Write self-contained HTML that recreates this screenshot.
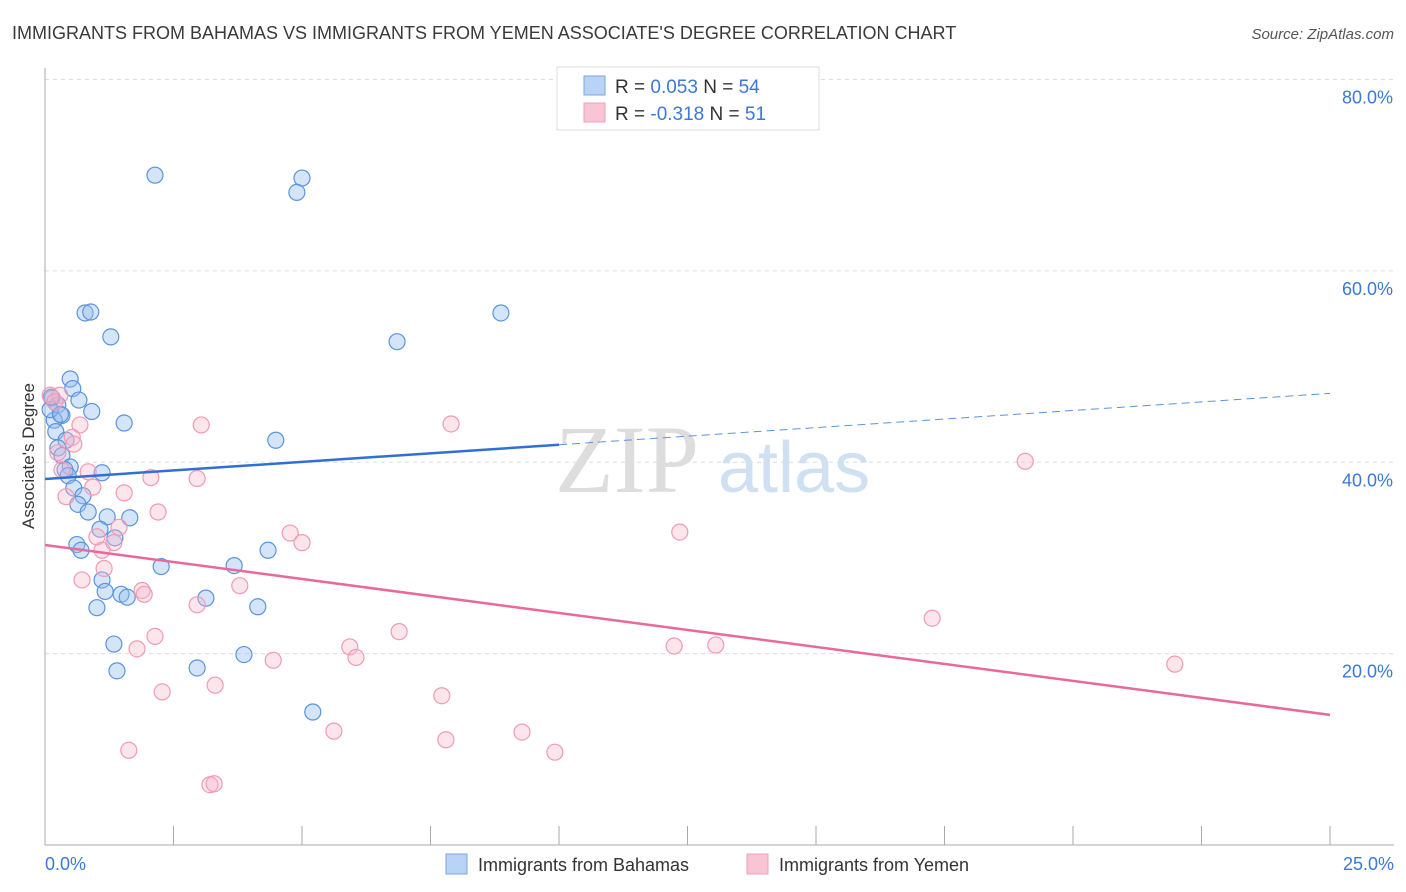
<!DOCTYPE html>
<html><head><meta charset="utf-8"><style>
body{margin:0;background:#fff;font-family:"Liberation Sans",sans-serif;}
svg{display:block}
</style></head><body>
<svg id="chart" width="1406" height="892" xmlns="http://www.w3.org/2000/svg">
<text x="12" y="39" font-size="18" fill="#3a3a3a">IMMIGRANTS FROM BAHAMAS VS IMMIGRANTS FROM YEMEN ASSOCIATE'S DEGREE CORRELATION CHART</text>
<text x="1394" y="39" font-size="15" fill="#555" text-anchor="end" font-style="italic">Source: ZipAtlas.com</text>
<g>
<text x="555" y="492" font-size="96" fill="#dddddd" font-family="Liberation Serif,serif">ZIP</text>
<text x="718" y="492" font-size="72" fill="#cfe0f3">atlas</text>
</g>
<g id="grid"></g>
<g id="axes"></g>
<g id="marks"></g>
<text transform="translate(34,456) rotate(-90)" font-size="17" fill="#333" text-anchor="middle">Associate's Degree</text>
<g>
<rect x="557" y="67" width="262" height="63" fill="#fff" stroke="#ddd"/>
<rect x="584" y="76" width="21" height="19" fill="#b8d3f5" stroke="#7aa6e0"/>
<rect x="584" y="103" width="21" height="19" fill="#f9c4d4" stroke="#eea0b8"/>
<text x="615" y="93" font-size="19" fill="#333">R = <tspan fill="#3b78d8"> 0.053</tspan>   N = <tspan fill="#3b78d8">54</tspan></text>
<text x="615" y="120" font-size="19" fill="#333">R = <tspan fill="#3b78d8">-0.318</tspan>   N = <tspan fill="#3b78d8"> 51</tspan></text>
</g>
<g>
<rect x="446" y="854" width="21" height="20" fill="#b8d3f5" stroke="#7aa6e0"/>
<text x="478" y="871" font-size="18" fill="#333">Immigrants from Bahamas</text>
<rect x="747" y="854" width="21" height="20" fill="#f9c4d4" stroke="#eea0b8"/>
<text x="779" y="871" font-size="18" fill="#333">Immigrants from Yemen</text>
</g>
</svg>
<script>
const yTicks=[20,40,60,80];
const yTickLabels=["20.0%","40.0%","60.0%","80.0%"];
const xTicks=[0,2.5,5,7.5,10,12.5,15,17.5,20,22.5,25];
const xEndLabels=["0.0%","25.0%"];
const bahamasX=[2.14,5.0,4.9,0.78,0.89,8.87,1.28,6.85,0.49,0.54,0.66,0.14,0.25,0.91,0.33,0.18,1.54,4.49,0.21,0.41,0.25,0.33,0.49,0.39,1.11,0.45,0.56,0.74,0.64,0.84,1.21,1.65,1.07,1.36,0.62,0.70,4.34,3.68,2.26,1.11,1.17,1.48,1.6,3.13,1.01,4.14,1.34,3.87,2.96,1.40,5.21,0.1,0.12,0.3];
const bahamasY=[70.0,69.7,68.2,55.6,55.7,55.6,53.1,52.6,48.7,47.7,46.5,46.7,46.0,45.3,44.9,44.4,44.1,42.3,43.2,42.3,41.5,40.7,39.5,39.2,38.9,38.6,37.3,36.5,35.6,34.8,34.3,34.2,33.0,32.1,31.4,30.8,30.8,29.2,29.1,27.7,26.5,26.2,25.9,25.8,24.8,24.9,21.0,19.9,18.5,18.2,13.9,45.5,46.8,45.0];
const yemenX=[0.1,0.29,0.19,3.04,7.9,0.68,0.53,0.56,0.25,19.07,0.84,0.33,2.06,2.96,0.93,1.54,0.41,2.2,1.44,4.77,12.35,1.01,5.0,1.34,1.11,1.15,0.72,3.79,1.89,1.93,2.96,17.26,6.89,2.14,1.79,5.93,12.24,13.05,6.05,4.44,21.98,3.31,2.28,7.72,5.62,9.28,7.8,1.63,9.92,3.21,3.29];
const yemenY=[47.0,47.0,46.3,43.9,44.0,43.9,42.6,41.9,41.0,40.1,39.0,39.2,38.4,38.3,37.4,36.8,36.4,34.8,33.2,32.6,32.7,32.2,31.6,31.6,30.8,28.9,27.7,27.1,26.6,26.2,25.1,23.7,22.3,21.8,20.5,20.7,20.8,20.9,19.6,19.3,18.9,16.7,16.0,15.6,11.9,11.8,11.0,9.9,9.7,6.3,6.4];
const bahamasTrend=[38.25,47.2];
const yemenTrend=[31.35,13.6];
const NS="http://www.w3.org/2000/svg";
const xs=v=>45+v/25*1285;
const ys=v=>845-v/80*765.5;
function mk(tag,attrs,parent){const e=document.createElementNS(NS,tag);for(const k in attrs)e.setAttribute(k,attrs[k]);parent.appendChild(e);return e;}
const grid=document.getElementById('grid'),axes=document.getElementById('axes'),marks=document.getElementById('marks');
yTicks.forEach((t,i)=>{
 const l=mk('line',{x1:45,x2:1394,y1:ys(t),y2:ys(t),stroke:'#ddd','stroke-dasharray':'4,4'},grid);
 
 
 const tx=mk('text',{x:1393,y:ys(t)+24,'font-size':18,fill:'#3b78d8','text-anchor':'end'},axes);
 tx.textContent=yTickLabels[i];
 
 
});
const ax=mk('line',{x1:45,x2:45,y1:68,y2:845,stroke:'#aaa'},axes);


const bx=mk('line',{x1:45,x2:1394,y1:845,y2:845,stroke:'#aaa'},axes);


xTicks.forEach(t=>{
 const l=mk('line',{x1:xs(t),x2:xs(t),y1:826,y2:845,stroke:'#aaa'},axes);
 
 
});
const xl0=mk('text',{x:45,y:870,'font-size':18,fill:'#3b78d8'},axes);xl0.textContent=xEndLabels[0];


const xl1=mk('text',{x:1394,y:870,'font-size':18,fill:'#3b78d8','text-anchor':'end'},axes);xl1.textContent=xEndLabels[1];


bahamasX.forEach((x,i)=>{
 const c=mk('circle',{cx:xs(x),cy:ys(bahamasY[i]),r:8,fill:'rgba(150,190,240,0.4)',stroke:'#5b93dd','stroke-width':1.2},marks);
 
 
});
yemenX.forEach((x,i)=>{
 const c=mk('circle',{cx:xs(x),cy:ys(yemenY[i]),r:8,fill:'rgba(248,180,200,0.35)',stroke:'#f09ab5','stroke-width':1.2},marks);
 
 
});
const bm=10,bv=bahamasTrend[0]+(bahamasTrend[1]-bahamasTrend[0])*bm/25;
const t1=mk('line',{x1:xs(0),y1:ys(bahamasTrend[0]),x2:xs(bm),y2:ys(bv),stroke:'#2f6fd6','stroke-width':2.5},marks);


const t2=mk('line',{x1:xs(bm),y1:ys(bv),x2:xs(25),y2:ys(bahamasTrend[1]),stroke:'#5b93dd','stroke-width':1,'stroke-dasharray':'8,5'},marks);


const t3=mk('line',{x1:xs(0),y1:ys(yemenTrend[0]),x2:xs(25),y2:ys(yemenTrend[1]),stroke:'#e8699a','stroke-width':2.5},marks);


</script>
</body></html>
